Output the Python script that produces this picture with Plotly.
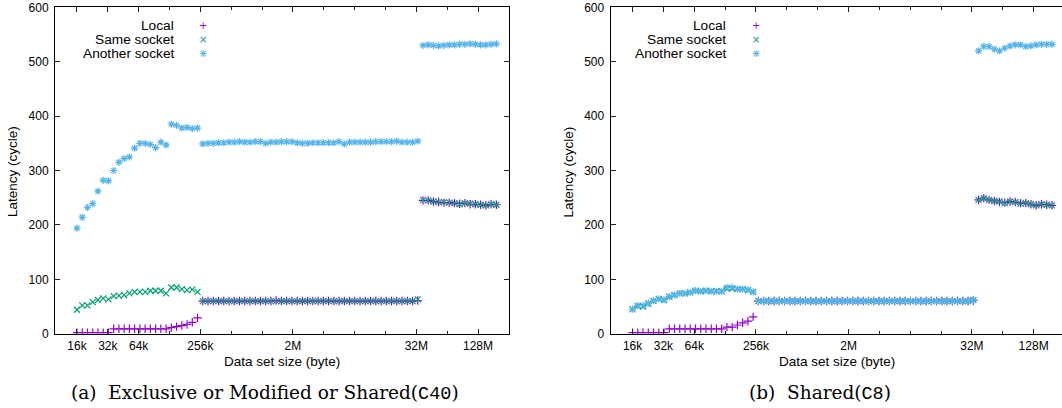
import plotly.graph_objects as go

# ---------------- data ----------------
# data-set sizes in bytes (16 KiB growing by a factor 1.125 per step)
sizes = [16384, 18432, 20736, 23328, 26244, 29525, 33216, 37368, 42039, 47294,
         53206, 59857, 67339, 75756, 85226, 95879, 107864, 121347, 136515, 153579,
         172776, 194373, 218670, 246004, 276755, 311349, 350268, 394052, 443309, 498723,
         561063, 631196, 710096, 798858, 898715, 1011054, 1137436, 1279616, 1439568, 1619514,
         1821953, 2049697, 2305909, 2594148, 2918417, 3283219, 3693621, 4155324, 4674740, 5259083,
         5916468, 6656027, 7488030, 8424034, 9477038, 10661668, 11994377, 13493674, 15180383, 17077931,
         19212672, 21614256, 24316038, 27355543, 30774986, 34621859, 38949591, 43818290, 49295576, 55457523,
         62389713, 70188427, 78961980, 88832228, 99936257, 112428289, 126481825, 142292053, 160078560, 180088380,
         202599428]

# (a) Exclusive or Modified or Shared (C40)
local_a = ([2, 2, 2, 2, 2, 2, 2]
           + [9, 9, 9, 9, 9, 9, 9, 9, 9, 9, 9]
           + [11, 13, 15, 17, 21, 29]
           + [60, 60, 60, 60, 60, 60, 60, 60, 60, 60, 60, 60, 60, 60, 61, 60, 60, 60, 60, 60, 60,
              60, 60, 60, 60, 60, 60, 60, 60, 60, 60, 60, 60, 60, 60, 60, 60, 60, 60, 60, 60, 61]
           + [245, 245, 243, 242, 241, 241, 240, 239, 240, 238, 238, 237, 236, 238, 237])
same_a = ([44, 52, 52, 58, 62, 65, 63, 69, 70, 71, 74, 77, 77, 77, 79, 79, 79, 74, 85, 85, 82, 80, 81, 77]
          + [60, 60, 60, 60, 60, 60, 60, 60, 60, 60, 60, 60, 60, 60, 60, 60, 60, 60, 60, 60, 60,
             60, 60, 60, 60, 60, 60, 60, 60, 60, 60, 60, 60, 60, 60, 60, 60, 60, 60, 60, 60, 63]
          + [246, 245, 243, 242, 242, 241, 240, 238, 240, 239, 238, 237, 236, 238, 237])
another_a = ([194, 214, 232, 239, 262, 282, 281, 300, 315, 322, 325, 341, 350, 350, 348, 342, 352, 347,
              385, 383, 378, 379, 377, 378]
             + [349, 350, 350, 351, 351, 352, 352, 353, 352, 352, 353, 353, 350, 352, 352, 353, 353,
                353, 351, 350, 350, 351, 351, 351, 351, 351, 353, 349, 352, 352, 352, 352, 352, 353,
                353, 353, 353, 354, 352, 352, 352, 354]
             + [530, 531, 530, 529, 530, 531, 531, 532, 532, 533, 532, 531, 531, 532, 533])

# (b) Shared (C8)
local_b = ([2, 2, 2, 2, 2, 2, 2]
           + [9, 9, 9, 9, 9, 9, 9, 9, 9, 9, 9]
           + [12, 12, 16, 20, 23, 31]
           + [60, 60, 60, 60, 60, 60, 60, 60, 60, 60, 60, 60, 60, 60, 60, 60, 60, 60, 60, 60, 60,
              60, 60, 60, 60, 60, 60, 60, 60, 60, 60, 60, 60, 60, 60, 60, 60, 60, 60, 60, 60, 61]
           + [246, 249, 246, 244, 242, 241, 243, 242, 240, 240, 238, 236, 238, 237, 236])
same_b = ([45, 51, 50, 55, 60, 64, 62, 68, 71, 74, 74, 76, 79, 78, 79, 78, 78, 78, 83, 83, 82, 82, 80, 77]
          + [60, 60, 60, 60, 60, 60, 60, 60, 60, 60, 60, 60, 60, 60, 60, 60, 60, 60, 60, 60, 60,
             60, 60, 60, 60, 60, 60, 60, 60, 60, 60, 60, 60, 60, 60, 60, 60, 60, 60, 60, 60, 62]
          + [246, 249, 246, 244, 243, 240, 243, 242, 239, 240, 238, 236, 238, 237, 236])
another_b = ([45, 52, 52, 56, 61, 64, 62, 68, 71, 74, 74, 76, 79, 78, 79, 78, 78, 78, 85, 85, 82, 82, 81, 77]
             + [60, 60, 60, 60, 60, 60, 60, 60, 60, 60, 60, 60, 60, 60, 60, 60, 60, 60, 60, 60, 60,
                60, 60, 60, 60, 60, 60, 60, 60, 60, 60, 60, 60, 60, 60, 60, 60, 60, 60, 60, 60, 62]
             + [520, 528, 528, 523, 520, 525, 529, 531, 531, 528, 529, 531, 532, 532, 532])

series_names = ["Local", "Same socket", "Another socket"]
series_colors = ["#9400d3", "#009e73", "#56b4e9"]
series_symbols = ["cross-thin-open", "x-thin-open", "asterisk-open"]

major_ticks = [16384, 32768, 65536, 262144, 2097152, 33554432, 134217728]
major_labels = ["16k", "32k", "64k", "256k", "2M", "32M", "128M"]
minor_ticks = [131072, 524288, 1048576, 4194304, 8388608, 16777216, 67108864, 268435456]

y_ticks = [0, 100, 200, 300, 400, 500, 600]

# ---------------- figure ----------------
W, H = 1062, 408
def fx(p):
    return p / W
def fy(p):
    return 1 - p / H

fig = go.Figure()
panels = [("x", "y", [local_a, same_a, another_a]),
          ("x2", "y2", [local_b, same_b, another_b])]
for xa, ya, vals in panels:
    for name, col, sym, v in zip(series_names, series_colors, series_symbols, vals):
        fig.add_trace(go.Scatter(
            x=sizes, y=v, mode="markers", name=name, showlegend=False,
            xaxis=xa, yaxis=ya, cliponaxis=True,
            marker=dict(symbol=sym, size=6, color=col, line=dict(color=col, width=1.2)),
        ))

tickfont = dict(family="Liberation Sans, Arial, sans-serif", size=12, color="black")

def xaxis(domain, rng):
    return dict(type="log", domain=domain, range=rng, automargin=False,
                showline=True, linecolor="black", linewidth=1, mirror="allticks",
                ticks="inside", ticklen=5, tickwidth=1, tickcolor="#222",
                tickvals=major_ticks, ticktext=major_labels, tickfont=tickfont,
                ticklabelstandoff=1,
                minor=dict(tickvals=minor_ticks, ticks="inside", ticklen=3,
                           tickwidth=1, tickcolor="#222", showgrid=False),
                showgrid=False, zeroline=False)

def yaxis(domain, mirror):
    return dict(domain=domain, range=[0, 600], tickvals=y_ticks, automargin=False,
                showline=True, linecolor="black", linewidth=1, mirror=mirror,
                ticks="inside", ticklen=5, tickwidth=1, tickcolor="#222",
                tickfont=tickfont, ticklabelstandoff=3,
                showgrid=False, zeroline=False)

ydom = [(H - 333.7) / H, (H - 7.3) / H]
xa1 = xaxis([fx(55), fx(509)], [4.0, 8.43])
xa1["anchor"] = "y"
xa2 = xaxis([fx(610.6), 1.0], [4.0, 8.43 - (8.43 - 4.0) * (454 - 451.4) / 454])
xa2["anchor"] = "y2"
ya1 = yaxis(ydom, "allticks")
ya1["anchor"] = "x"
ya2 = yaxis(ydom, False)
ya2["anchor"] = "x2"

sans = "Liberation Sans, Arial, sans-serif"
serif = "DejaVu Serif, Liberation Serif, serif"

annotations = []
offset = 555.6
for k, cap in enumerate([
        "(a)  Exclusive or Modified or Shared(<span style='font-family:Liberation Mono'>C40</span>)",
        "(b)  Shared(<span style='font-family:Liberation Mono'>C8</span>)"]):
    dx = k * offset
    annotations.append(dict(text="Latency (cycle)", x=fx(12 + dx), y=fy(172), xref="paper", yref="paper",
                            textangle=-90, showarrow=False, xanchor="center", yanchor="middle",
                            font=dict(family=sans, size=13.5, color="black")))
    annotations.append(dict(text="Data set size (byte)", x=fx(281.5 + dx), y=fy(361), xref="paper",
                            yref="paper", showarrow=False, xanchor="center", yanchor="middle",
                            font=dict(family=sans, size=13.5, color="black")))
    annotations.append(dict(text=cap, x=fx([265, 820][k]), y=fy(393), xref="paper", yref="paper",
                            showarrow=False, xanchor="center", yanchor="middle",
                            font=dict(family=serif, size=18.5, color="black")))
    tx = [175.7, 728.3][k]
    mx = [203.3, 755.7][k]
    for j, (name, col) in enumerate(zip(series_names, series_colors)):
        yy = [25, 39.3, 53.3][j]
        annotations.append(dict(text=name, x=fx(tx), y=fy(yy), xref="paper", yref="paper",
                                showarrow=False, xanchor="right", yanchor="middle",
                                font=dict(family=sans, size=13.7, color="black")))
        glyphs = {0: ["+"], 1: ["×"], 2: ["+", "×"]}[j]
        for g in glyphs:
            annotations.append(dict(text=g, x=fx(mx), y=fy(yy), xref="paper", yref="paper",
                                    showarrow=False, xanchor="center", yanchor="middle",
                                    font=dict(family="DejaVu Sans", size=10, color=col)))

fig.update_layout(
    width=W, height=H, margin=dict(l=0, r=0, t=0, b=0, autoexpand=False),
    paper_bgcolor="white", plot_bgcolor="white",
    xaxis=xa1, yaxis=ya1, xaxis2=xa2, yaxis2=ya2,
    annotations=annotations, showlegend=False, hovermode=False,
)

fig.write_html("out.html", config={"displayModeBar": False, "staticPlot": True},
               post_script="document.body.style.margin='0';document.body.style.overflow='hidden';")
